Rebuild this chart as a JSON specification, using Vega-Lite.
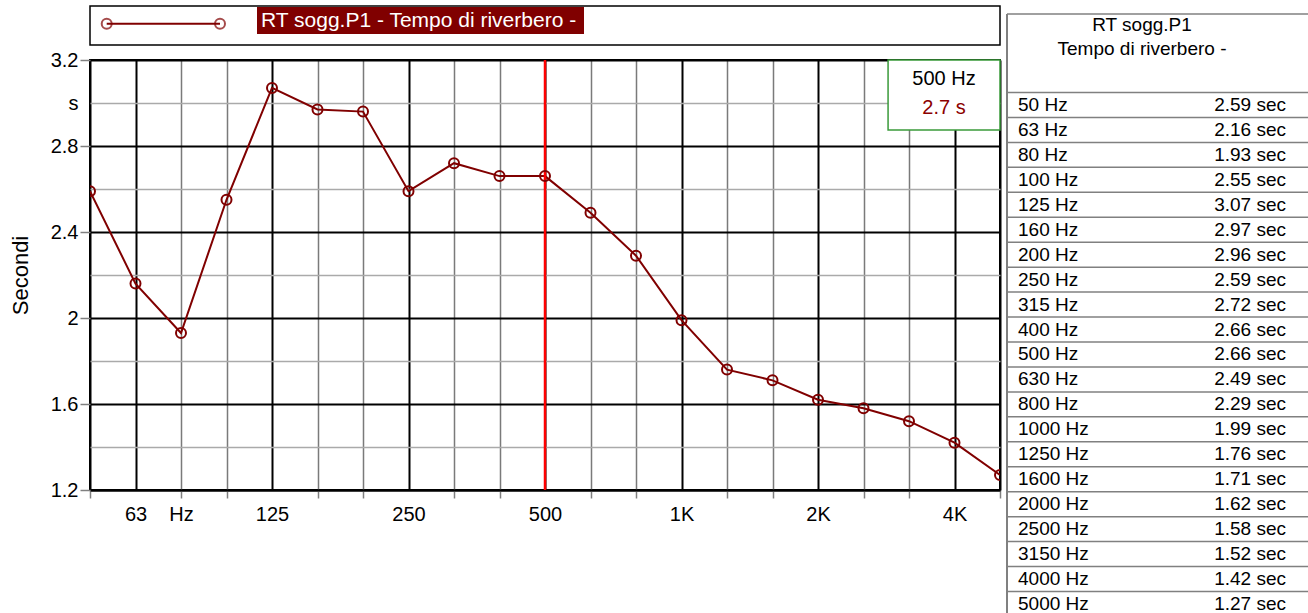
{
  "$schema": "https://vega.github.io/schema/vega-lite/v6.json",
  "padding": {"left": 8, "top": 5, "right": 0, "bottom": 0},
  "autosize": {"type": "pad"},
  "background": "white",
  "config": {"font": "Liberation Sans", "view": {"stroke": null}},
  "datasets": {
    "rt": [
      {"i": 0, "band": "50 Hz", "rt": 2.59},
      {"i": 1, "band": "63 Hz", "rt": 2.16},
      {"i": 2, "band": "80 Hz", "rt": 1.93},
      {"i": 3, "band": "100 Hz", "rt": 2.55},
      {"i": 4, "band": "125 Hz", "rt": 3.07},
      {"i": 5, "band": "160 Hz", "rt": 2.97},
      {"i": 6, "band": "200 Hz", "rt": 2.96},
      {"i": 7, "band": "250 Hz", "rt": 2.59},
      {"i": 8, "band": "315 Hz", "rt": 2.72},
      {"i": 9, "band": "400 Hz", "rt": 2.66},
      {"i": 10, "band": "500 Hz", "rt": 2.66},
      {"i": 11, "band": "630 Hz", "rt": 2.49},
      {"i": 12, "band": "800 Hz", "rt": 2.29},
      {"i": 13, "band": "1000 Hz", "rt": 1.99},
      {"i": 14, "band": "1250 Hz", "rt": 1.76},
      {"i": 15, "band": "1600 Hz", "rt": 1.71},
      {"i": 16, "band": "2000 Hz", "rt": 1.62},
      {"i": 17, "band": "2500 Hz", "rt": 1.58},
      {"i": 18, "band": "3150 Hz", "rt": 1.52},
      {"i": 19, "band": "4000 Hz", "rt": 1.42},
      {"i": 20, "band": "5000 Hz", "rt": 1.27}
    ]
  },
  "spacing": 4,
  "hconcat": [
    {
      "bounds": "flush",
      "spacing": 15,
      "vconcat": [
        {
          "width": 910,
          "height": 39,
          "view": {"stroke": "black", "strokeWidth": 1.5},
          "data": {"values": [{"series": "RT sogg.P1 - Tempo di riverbero -"}]},
          "layer": [
            {
              "mark": {"type": "rule", "color": "#800000", "strokeWidth": 2},
              "encoding": {
                "x": {"datum": 16.7, "scale": {"domain": [0, 910], "nice": false, "zero": false}, "axis": null},
                "x2": {"datum": 130},
                "y": {"datum": 17.7, "scale": {"domain": [39, 0], "nice": false, "zero": false}, "axis": null}
              }
            },
            {
              "mark": {"type": "point", "shape": "circle", "size": 100, "stroke": "#800000", "strokeWidth": 2, "filled": false},
              "encoding": {"x": {"datum": 16.7, "axis": null}, "y": {"datum": 17.7, "axis": null}}
            },
            {
              "mark": {"type": "point", "shape": "circle", "size": 100, "stroke": "#800000", "strokeWidth": 2, "filled": false},
              "encoding": {"x": {"datum": 130, "axis": null}, "y": {"datum": 17.7, "axis": null}}
            },
            {
              "mark": {"type": "rect", "color": "#800000"},
              "encoding": {"x": {"datum": 167, "axis": null}, "x2": {"datum": 494}, "y": {"datum": 1, "axis": null}, "y2": {"datum": 28}}
            },
            {
              "mark": {"type": "text", "color": "white", "fontSize": 21, "align": "left", "baseline": "middle"},
              "encoding": {"text": {"field": "series"}, "x": {"datum": 171, "axis": null}, "y": {"datum": 14.5, "axis": null}}
            }
          ]
        },
        {
          "width": 910,
          "height": 430,
          "view": {"stroke": "black", "strokeWidth": 2},
          "data": {"name": "rt"},
          "layer": [
            {
              "mark": {"type": "line", "color": "#800000", "strokeWidth": 2, "clip": true},
              "encoding": {
                "x": {
                  "field": "i", "type": "quantitative",
                  "scale": {"domain": [0, 20], "nice": false, "zero": false},
                  "axis": {
                    "title": null,
                    "values": [0,1,2,3,4,5,6,7,8,9,10,11,12,13,14,15,16,17,18,19,20],
                    "labelExpr": "['','63','Hz','','125','','','250','','','500','','','1K','','','2K','','','4K',''][datum.value]",
                    "labelFontSize": 20, "labelColor": "black", "labelPadding": 6,
                    "labelFlush": false, "labelOverlap": false,
                    "tickSize": 8, "tickWidth": 1.5,
                    "tickColor": {"condition": {"test": "indexof([1,4,7,10,13,16,19], datum.value) >= 0", "value": "transparent"}, "value": "#808080"},
                    "grid": true, "gridOpacity": 1,
                    "gridColor": {"condition": {"test": "indexof([0,1,4,7,10,13,16,19,20], datum.value) >= 0", "value": "black"}, "value": "#7a7a7a"},
                    "gridWidth": {"condition": {"test": "indexof([0,1,4,7,10,13,16,19,20], datum.value) >= 0", "value": 2}, "value": 1.5},
                    "domainColor": "black", "domainWidth": 2
                  }
                },
                "y": {
                  "field": "rt", "type": "quantitative",
                  "scale": {"domain": [1.2, 3.2], "nice": false, "zero": false},
                  "axis": {
                    "title": "Secondi", "titleFontSize": 22, "titleFontWeight": "normal", "titleColor": "black", "titlePadding": 18,
                    "values": [1.2,1.3,1.4,1.5,1.6,1.7,1.8,1.9,2,2.1,2.2,2.3,2.4,2.5,2.6,2.7,2.8,2.9,3,3.1,3.2],
                    "labelExpr": "datum.value == 3 ? 's' : (indexof([1.2,1.6,2,2.4,2.8,3.2], datum.value) >= 0 ? format(datum.value, '~g') : '')",
                    "labelFontSize": 20, "labelColor": "black", "labelPadding": 2, "labelOverlap": false, "labelFlush": false,
                    "tickSize": 10, "tickWidth": 1.5,
                    "tickColor": {"condition": {"test": "indexof([1.2,1.6,2,2.4,2.8,3.2], datum.value) >= 0", "value": "#808080"}, "value": "transparent"},
                    "grid": true, "gridOpacity": 1,
                    "gridColor": {"condition": {"test": "indexof([1.2,1.6,2,2.4,2.8,3.2], datum.value) >= 0", "value": "black"}, "value": "#aaaaaa"},
                    "gridWidth": {"condition": {"test": "indexof([1.2,1.6,2,2.4,2.8,3.2], datum.value) >= 0", "value": 2}, "value": 1.6},
                    "domain": false
                  }
                }
              }
            },
            {
              "data": {"values": [{}]},
              "mark": {"type": "rule", "color": "#ff0000", "strokeWidth": 2.5},
              "encoding": {"x": {"datum": 10}}
            },
            {
              "data": {"values": [{}]},
              "mark": {"type": "rect", "fill": "white", "stroke": "#3a9a3a", "strokeWidth": 1.5},
              "encoding": {"x": {"datum": 17.54}, "x2": {"datum": 20}, "y": {"datum": 3.2}, "y2": {"datum": 2.874}}
            },
            {
              "data": {"values": [{}]},
              "mark": {"type": "text", "text": "500 Hz", "fontSize": 20, "color": "black", "align": "center", "baseline": "middle"},
              "encoding": {"x": {"datum": 18.77}, "y": {"datum": 3.112}}
            },
            {
              "data": {"values": [{}]},
              "mark": {"type": "text", "text": "2.7 s", "fontSize": 20, "color": "#8b0000", "align": "center", "baseline": "middle"},
              "encoding": {"x": {"datum": 18.77}, "y": {"datum": 2.977}}
            },
            {
              "mark": {"type": "point", "shape": "circle", "size": 100, "stroke": "#800000", "strokeWidth": 2, "filled": false, "clip": true, "opacity": 1},
              "encoding": {"x": {"field": "i", "type": "quantitative"}, "y": {"field": "rt", "type": "quantitative"}}
            }
          ]
        }
      ]
    },
    {
      "width": 303,
      "height": 608,
      "data": {"name": "rt"},
      "layer": [
        {
          "mark": {"type": "rule", "color": "#808080", "strokeWidth": 1.5, "yOffset": -12.475},
          "encoding": {
            "y": {"field": "i", "type": "quantitative", "scale": {"domain": [-3.968, 20.401], "reverse": true, "nice": false, "zero": false}, "axis": null}
          }
        },
        {
          "data": {"values": [{}]},
          "mark": {"type": "rule", "color": "#808080", "strokeWidth": 1.5},
          "encoding": {"y": {"datum": -3.647, "axis": null}}
        },
        {
          "data": {"values": [{}]},
          "mark": {"type": "rule", "color": "#808080", "strokeWidth": 2},
          "encoding": {
            "x": {"datum": 0, "scale": {"domain": [0, 303], "nice": false, "zero": false}, "axis": null},
            "y": {"datum": -3.647, "axis": null},
            "y2": {"datum": 20.401}
          }
        },
        {
          "data": {"values": [{}]},
          "mark": {"type": "text", "text": "RT sogg.P1", "fontSize": 19, "color": "black", "align": "center", "baseline": "middle"},
          "encoding": {"x": {"datum": 135, "axis": null}, "y": {"datum": -3.206, "axis": null}}
        },
        {
          "data": {"values": [{}]},
          "mark": {"type": "text", "text": "Tempo di riverbero -", "fontSize": 19, "color": "black", "align": "center", "baseline": "middle"},
          "encoding": {"x": {"datum": 135, "axis": null}, "y": {"datum": -2.245, "axis": null}}
        },
        {
          "mark": {"type": "text", "fontSize": 19, "color": "black", "align": "left", "baseline": "middle"},
          "encoding": {
            "text": {"field": "band"},
            "x": {"datum": 11, "axis": null},
            "y": {"field": "i", "type": "quantitative", "axis": null}
          }
        },
        {
          "mark": {"type": "text", "fontSize": 19, "color": "black", "align": "right", "baseline": "middle", "text": {"expr": "format(datum.rt, '.2f') + ' sec'"}},
          "encoding": {
            "x": {"datum": 279, "axis": null},
            "y": {"field": "i", "type": "quantitative", "axis": null}
          }
        }
      ]
    }
  ]
}
